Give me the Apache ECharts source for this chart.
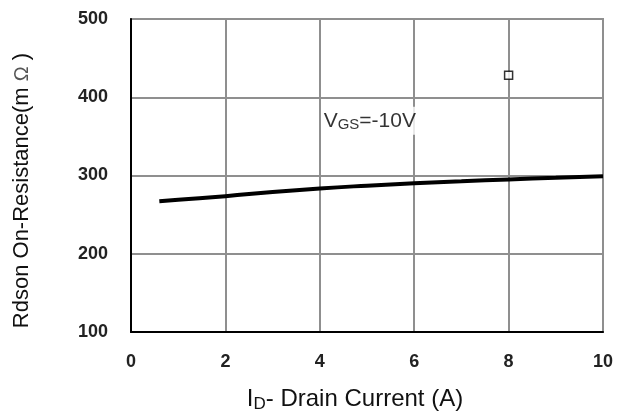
<!DOCTYPE html>
<html>
<head>
<meta charset="utf-8">
<script src="https://cdn.jsdelivr.net/npm/echarts@6/dist/echarts.min.js"></script>
<style>html,body{margin:0;padding:0;background:#fff}#c{width:617px;height:413px}</style>
</head>
<body>
<div id="c"></div>
<script>
const xTicks = [0, 2, 4, 6, 8, 10];
const yTicks = [100, 200, 300, 400, 500];
const currentA = [0.6, 1, 2, 3, 4, 5, 6, 7, 8, 9, 10];
const rdsonMOhm = [267, 269, 273.5, 279, 283.5, 287, 290, 292.5, 295, 297, 299];
const markerPoint = [8, 428];
const labelPoint = [5.06, 370];

const chart = echarts.init(document.getElementById('c'));
const F = '"Liberation Sans", Arial, sans-serif';
chart.setOption({
  animation: false,
  grid: { left: 131, right: 14, top: 19, bottom: 81, containLabel: false, outerBoundsMode: 'none', show: true, borderColor: '#8f8f8f', borderWidth: 2 },
  xAxis: {
    type: 'value', min: xTicks[0], max: xTicks[xTicks.length - 1], interval: 2,
    axisLine: { show: true, onZero: false, lineStyle: { color: '#000', width: 2 } },
    axisTick: { show: false },
    splitLine: { show: true, lineStyle: { color: '#8f8f8f', width: 2 } },
    axisLabel: { margin: 21, color: '#222', fontFamily: F, fontWeight: 'bold', fontSize: 18 },
    name: '{n|I}{s|D}{n|- Drain Current (A)}',
    nameLocation: 'middle', nameGap: 54,
    nameTextStyle: {
      padding: [0, 24, 0, 0],
      rich: { n: { fontFamily: F, fontSize: 24, color: '#111' }, s: { fontFamily: F, fontSize: 17, color: '#111', verticalAlign: 'bottom', padding: [10, 0, 0, 0] } }
    }
  },
  yAxis: {
    type: 'value', min: yTicks[0], max: yTicks[yTicks.length - 1], interval: 100,
    axisLine: { show: true, lineStyle: { color: '#000', width: 2 } },
    axisTick: { show: false },
    splitLine: { show: true, lineStyle: { color: '#8f8f8f', width: 2 } },
    axisLabel: { margin: 23, color: '#222', fontFamily: F, fontWeight: 'bold', fontSize: 18 },
    name: '{n|Rdson On-Resistance(m }{o|Ω}{n| )}',
    nameLocation: 'middle', nameGap: 98, nameRotate: 90,
    nameTextStyle: {
      padding: [0, 30, 0, 0],
      rich: { n: { fontFamily: F, fontSize: 22, color: '#111' }, o: { fontFamily: F, fontSize: 20, color: '#555' } }
    }
  },
  series: [
    {
      type: 'line', data: currentA.map((x, i) => [x, rdsonMOhm[i]]),
      smooth: true, showSymbol: false, lineStyle: { color: '#000', width: 4 }
    },
    {
      type: 'scatter', data: [markerPoint], symbol: 'rect', symbolSize: 8,
      itemStyle: { color: '#fff', borderColor: '#000', borderWidth: 1.5 }
    },
    {
      type: 'scatter', data: [labelPoint], symbolSize: 0,
      label: {
        show: true, position: 'inside', color: '#000', textBorderWidth: 0,
        formatter: '{n|V}{s|GS}{n|=-10V}',
        backgroundColor: '#fff', padding: [2, 1, 2, 1],
        rich: {
          n: { fontFamily: F, fontSize: 21, color: '#000', textBorderWidth: 0 },
          s: { fontFamily: F, fontSize: 15, color: '#000', textBorderWidth: 0, verticalAlign: 'bottom', padding: [9, 0, 0, 0] }
        }
      }
    }
  ]
});
</script>
</body>
</html>
